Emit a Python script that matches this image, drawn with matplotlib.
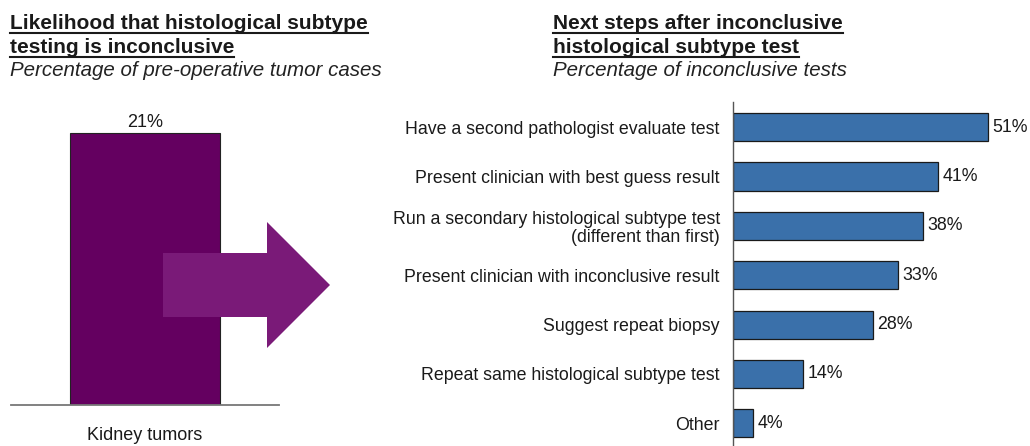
import numpy as np
import matplotlib
matplotlib.use('Agg')
import matplotlib.pyplot as plt
from matplotlib.patches import Polygon
from matplotlib.lines import Line2D

plt.rcParams['font.family'] = ['Liberation Sans', 'DejaVu Sans']

# Left panel data
left_category = ['Kidney tumors']
left_value = [21]

# Right panel data
steps = ['Have a second pathologist evaluate test',
         'Present clinician with best guess result',
         'Run a secondary histological subtype test\n(different than first)',
         'Present clinician with inconclusive result',
         'Suggest repeat biopsy',
         'Repeat same histological subtype test',
         'Other']
step_pct = [51, 41, 38, 33, 28, 14, 4]

W, H = 1030, 446
fig = plt.figure(figsize=(W / 100, H / 100), dpi=100)
TXT = '#1a1a1a'


def px_axes(x0, y0, x1, y1):
    # axes from pixel box (top-left origin)
    return fig.add_axes([x0 / W, 1 - y1 / H, (x1 - x0) / W, (y1 - y0) / H])


def titled(x, lines, sub):
    ys = [29, 53]
    for y, t in zip(ys, lines):
        txt = fig.text(x / W, 1 - y / H, t, fontsize=15, fontweight='bold',
                       va='baseline', ha='left', color=TXT)
        fig.canvas.draw()
        bb = txt.get_window_extent()
        fig.add_artist(Line2D([bb.x0 / W, bb.x1 / W],
                              [(H - y - 3.5) / H] * 2, color=TXT, lw=1.5))
    fig.text(x / W, 1 - 76 / H, sub, fontsize=14.8, style='italic',
             va='baseline', ha='left', color='#222222')


titled(10, ['Likelihood that histological subtype', 'testing is inconclusive'],
       'Percentage of pre-operative tumor cases')
titled(553, ['Next steps after inconclusive', 'histological subtype test'],
       'Percentage of inconclusive tests')

# ---- left panel
ax1 = px_axes(11, 105, 279, 405)
ax1.bar([0.5], left_value, width=150 / 268, color='#640060',
        edgecolor='#222222', linewidth=0.8, zorder=2)
ax1.set_xlim(0, 1)
ax1.set_ylim(0, 21 * 300 / 272)
for s in ['top', 'right', 'left']:
    ax1.spines[s].set_visible(False)
ax1.spines['bottom'].set_color('#777777')
ax1.spines['bottom'].set_linewidth(1.3)
ax1.set_yticks([])
ax1.set_xticks([0.5])
ax1.set_xticklabels(left_category, fontsize=13, color=TXT)
ax1.tick_params(axis='x', length=0, pad=16)
ax1.annotate('%d%%' % left_value[0], (0.5, left_value[0]),
             xytext=(0, 1.5), textcoords='offset points',
             ha='center', va='bottom', fontsize=13, color=TXT)

# arrow (decoration)
arrow_px = [(163, 253), (267, 253), (267, 222), (330, 285),
            (267, 348), (267, 317), (163, 317)]
arrow = Polygon([(x / W, 1 - y / H) for x, y in arrow_px], closed=True,
                transform=fig.transFigure, facecolor='#7A1A78',
                edgecolor='none', zorder=5)
fig.add_artist(arrow)

# ---- right panel
ax2 = px_axes(733, 102, W, H)
yy = np.arange(len(steps))
ax2.barh(yy, step_pct, height=0.57, color='#3A70AA', edgecolor='#1a1a1a',
         linewidth=0.9)
ax2.set_xlim(0, (W - 733) / 5.0)
ax2.set_ylim(6.46, -0.51)
for s in ['top', 'right', 'bottom']:
    ax2.spines[s].set_visible(False)
ax2.spines['left'].set_color('#555555')
ax2.spines['left'].set_linewidth(1.0)
ax2.set_xticks([])
ax2.set_yticks(yy)
ax2.set_yticklabels(steps, fontsize=12.8, linespacing=1.05, color=TXT)
ax2.tick_params(axis='y', length=0, pad=9.5)
for y, v in zip(yy, step_pct):
    ax2.annotate('%d%%' % v, (v, y), xytext=(3, 0), textcoords='offset points',
                 ha='left', va='center', fontsize=12.8, color=TXT)

fig.savefig('out.png', dpi=100)
